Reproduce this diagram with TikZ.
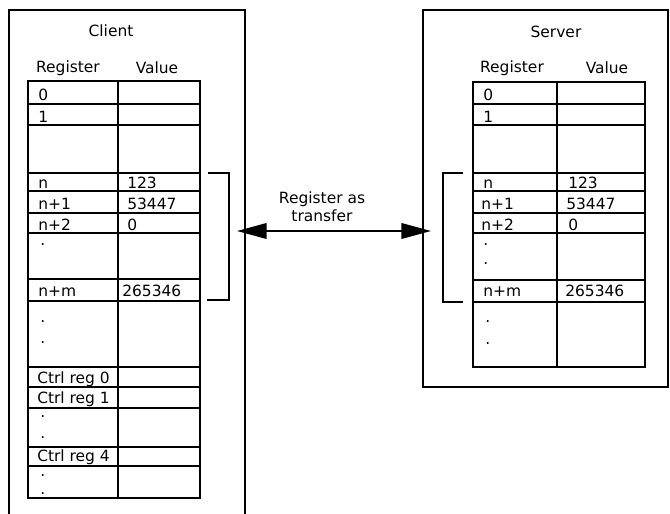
\documentclass[tikz,border=0pt]{standalone}
\usepackage{fontspec}
\setmainfont{DejaVu Sans}
\usetikzlibrary{positioning,arrows.meta}

\begin{document}
\begin{tikzpicture}[
    x=0.025cm, y=-0.025cm,
    frame/.style={line width=1.4pt},
    grid/.style={line width=0.8pt},
    heavy/.style={line width=1.4pt},
    cell/.style={anchor=base west, inner sep=0pt, font=\fontsize{11}{12}\selectfont},
    head/.style={inner sep=0pt, font=\fontsize{11}{13}\selectfont},
    arr/.style={{Triangle[length=21pt,width=11pt]}-{Triangle[length=21pt,width=11pt]}, line width=1.4pt}
]
    \useasboundingbox (0,0) rectangle (670,513);
    \clip (0,0) rectangle (670,513);

    % Outer frames (client runs off the bottom)
    \draw[frame] (9,530) -- (9,10) -- (245,10) -- (245,530);
    \draw[frame] (423,10) rectangle (668,387);

    % Client headings
    \node[head] (ctitle) at (111,31) {Client};
    \node[head] (creg) at (68,68) {Register};
    \node[head] (cval) at (157,68) {Value};

    % Client register table
    \draw[grid] (28,81) rectangle (200,498);
    \draw[heavy] (118,81) -- (118,498);
    \draw[heavy] (28,104) -- (200,104) (28,173) -- (200,173) (28,233) -- (200,233)
        (28,387) -- (200,387) (28,447) -- (200,447) (28,466) -- (200,466);
    \draw[grid] (28,125) -- (200,125) (28,191) -- (200,191) (28,213) -- (200,213)
        (28,279) -- (200,279) (28,301) -- (200,301) (28,367) -- (200,367) (28,408) -- (200,408);

    \node[cell] (c0) at (38,100) {0};
    \node[cell] (c1) at (38,122) {1};
    \node[cell] (cn) at (38,188) {n};
    \node[cell] (cn1) at (38,209) {n+1};
    \node[cell] (cn2) at (38,230) {n+2};
    \node[cell] (cd1) at (40,245) {.};
    \node[cell] (cnm) at (38,296) {n+m};
    \node[cell] (cd2) at (40,322) {.};
    \node[cell] (cd3) at (40,343) {.};
    \node[cell] (cr0) at (37,383) {Ctrl reg 0};
    \node[cell] (cr1) at (37,403) {Ctrl reg 1};
    \node[cell] (cd4) at (40,417) {.};
    \node[cell] (cd5) at (40,438) {.};
    \node[cell] (cr4) at (37,461) {Ctrl reg 4};
    \node[cell] (cd6) at (40,476) {.};
    \node[cell] (cd7) at (40,494) {.};

    \node[cell] (cv0) at (127,188) {123};
    \node[cell] (cv1) at (127,209) {53447};
    \node[cell] (cv2) at (127,230) {0};
    \node[cell] (cvm) at (122,296) {265346};

    % Client bracket
    \draw[heavy] (208,173) -- (229,173) -- (229,300) -- (207,300);

    % Server headings
    \node[head] (stitle) at (556,32) {Server};
    \node[head] (sreg) at (512,68) {Register};
    \node[head] (sval) at (607,68) {Value};

    % Server register table
    \draw[grid] (473,82) rectangle (645,367);
    \draw[heavy] (557,82) -- (557,367);
    \draw[heavy] (473,104) -- (645,104) (473,125) -- (645,125) (473,173) -- (645,173)
        (473,302) -- (645,302);
    \draw[grid] (473,191) -- (645,191) (473,213) -- (645,213) (473,233) -- (645,233)
        (473,280) -- (645,280);

    \node[cell] (s0) at (483,100) {0};
    \node[cell] (s1) at (483,122) {1};
    \node[cell] (sn) at (483,188) {n};
    \node[cell] (sn1) at (481,209) {n+1};
    \node[cell] (sn2) at (481,230) {n+2};
    \node[cell] (sd1) at (483,245) {.};
    \node[cell] (sd2) at (483,264) {.};
    \node[cell] (snm) at (483,296) {n+m};
    \node[cell] (sd3) at (485,322) {.};
    \node[cell] (sd4) at (485,344) {.};

    \node[cell] (sv0) at (568,188) {123};
    \node[cell] (sv1) at (566,209) {53447};
    \node[cell] (sv2) at (568,230) {0};
    \node[cell] (svm) at (565,296) {265346};

    % Server bracket
    \draw[heavy] (463,173) -- (443,173) -- (443,302) -- (463,302);

    % Transfer arrow
    \coordinate (tl) at (237,231);
    \coordinate (tr) at (431,231);
    \draw[arr] (tl) -- (tr);
    \node[head, align=center] (tlabel) at (322,207) {Register as\\transfer};
\end{tikzpicture}
\end{document}
